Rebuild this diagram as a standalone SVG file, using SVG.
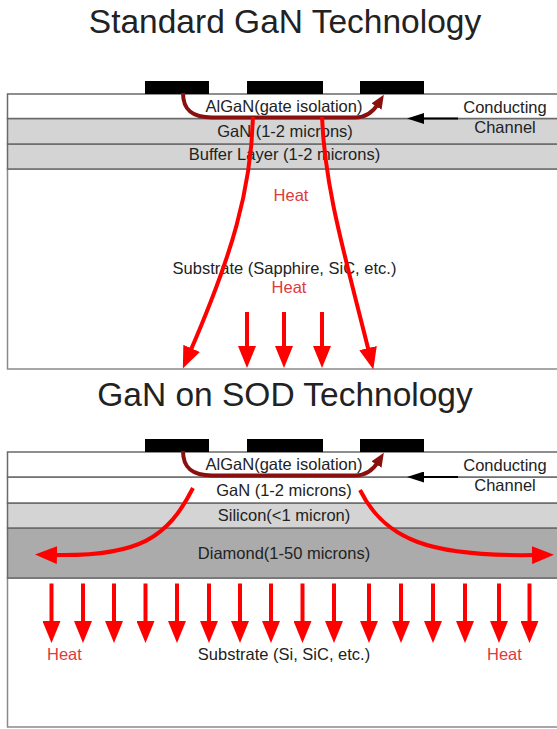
<svg xmlns="http://www.w3.org/2000/svg" width="557" height="729" viewBox="0 0 557 729">
  <style>
    text { font-family: "Liberation Sans", Arial, sans-serif; fill: #222; }
    .title { font-size: 33.5px; text-anchor: middle; }
    .lbl { font-size: 16.5px; text-anchor: middle; }
    .heat { font-size: 16.5px; fill: #e0393e; }
    .layer { stroke: #6a6a6a; stroke-width: 1.5; }
    .white { fill: #ffffff; }
    .light { fill: #d4d4d4; }
    .dark { fill: #ababab; }
    .sub { fill: #ffffff; stroke: #8a8a8a; stroke-width: 1.5; }
    .pad { fill: #000000; }
    .flow { fill: none; stroke: #ff0000; stroke-width: 4; }
    .chan { fill: none; stroke: #8a1010; stroke-width: 4; }
    .ptr { fill: none; stroke: #000000; stroke-width: 2; }
  </style>
  <defs>
    <marker id="headRed" viewBox="0 0 22 18" refX="4" refY="9" markerWidth="22" markerHeight="18" markerUnits="userSpaceOnUse" orient="auto">
      <path d="M0,0 L22,9 L0,18 z" fill="#ff0000"/>
    </marker>
    <marker id="headDark" viewBox="0 0 14 12" refX="3" refY="6" markerWidth="14" markerHeight="12" markerUnits="userSpaceOnUse" orient="auto">
      <path d="M0,0 L14,6 L0,12 z" fill="#8a1010"/>
    </marker>
    <marker id="headBlack" viewBox="0 0 17 11" refX="2" refY="5.5" markerWidth="17" markerHeight="11" markerUnits="userSpaceOnUse" orient="auto">
      <path d="M0,0 L17,5.5 L0,11 z" fill="#000000"/>
    </marker>
  </defs>

  <rect width="557" height="729" fill="#ffffff"/>

  <!-- Standard GaN stack -->
  <g id="title-standard"><text class="title" x="285" y="33">Standard GaN Technology</text></g>
  <g id="std-substrate">
    <rect class="sub" x="7.5" y="169" width="560" height="200"/>
    <text class="lbl" x="284.5" y="274">Substrate (Sapphire, SiC, etc.)</text>
  </g>
  <g id="std-buffer">
    <rect class="layer light" x="7.5" y="144" width="560" height="25"/>
    <text class="lbl" x="284.5" y="160">Buffer Layer (1-2 microns)</text>
  </g>
  <g id="std-gan">
    <rect class="layer light" x="7.5" y="118.5" width="560" height="25.5"/>
    <text class="lbl" x="285" y="137">GaN (1-2 microns)</text>
  </g>
  <g id="std-algan">
    <rect class="layer white" x="7.5" y="94" width="560" height="24.5"/>
    <text class="lbl" x="284" y="112">AlGaN(gate isolation)</text>
  </g>
  <g id="std-contacts">
    <rect class="pad" x="145" y="81" width="64" height="13"/>
    <rect class="pad" x="247" y="81" width="76" height="13"/>
    <rect class="pad" x="360" y="81" width="64" height="13"/>
  </g>
  <g id="std-channel-label">
    <text class="lbl" x="505" y="113">Conducting</text>
    <text class="lbl" x="505" y="133">Channel</text>
  </g>
  <g id="std-heat-labels">
    <text class="heat" x="291" y="201" text-anchor="middle">Heat</text>
    <text class="heat" x="289" y="293" text-anchor="middle">Heat</text>
  </g>

  <!-- GaN on SOD stack -->
  <g id="title-sod"><text class="title" x="285" y="406">GaN on SOD Technology</text></g>
  <g id="sod-substrate">
    <rect class="sub" x="7.5" y="578" width="560" height="149"/>
    <text class="lbl" x="284" y="660">Substrate (Si, SiC, etc.)</text>
  </g>
  <g id="sod-diamond">
    <rect class="layer dark" x="7.5" y="528" width="560" height="50"/>
    <text class="lbl" x="284" y="559">Diamond(1-50 microns)</text>
  </g>
  <g id="sod-silicon">
    <rect class="layer light" x="7.5" y="503" width="560" height="25"/>
    <text class="lbl" x="284" y="521">Silicon(&lt;1 micron)</text>
  </g>
  <g id="sod-gan">
    <rect class="layer white" x="7.5" y="477" width="560" height="26"/>
    <text class="lbl" x="284" y="496">GaN (1-2 microns)</text>
  </g>
  <g id="sod-algan">
    <rect class="layer white" x="7.5" y="452" width="560" height="25"/>
    <text class="lbl" x="284" y="470">AlGaN(gate isolation)</text>
  </g>
  <g id="sod-contacts">
    <rect class="pad" x="145" y="439" width="64" height="13"/>
    <rect class="pad" x="247" y="439" width="76" height="13"/>
    <rect class="pad" x="360" y="439" width="64" height="13"/>
  </g>
  <g id="sod-channel-label">
    <text class="lbl" x="505" y="471">Conducting</text>
    <text class="lbl" x="505" y="491">Channel</text>
  </g>
  <g id="sod-heat-labels">
    <text class="heat" x="47" y="660">Heat</text>
    <text class="heat" x="487" y="660">Heat</text>
  </g>

  <g id="connectors">
    <!-- standard: channel current and heat paths -->
    <path class="chan" d="M183,93 C183,110 192,117.5 212,117.5 L355,117.5 C366,117.5 373,112 378,104" marker-end="url(#headDark)"/>
    <line class="ptr" x1="458" y1="118.5" x2="422" y2="118.5" marker-end="url(#headBlack)"/>
    <path class="flow" d="M253,117 C251,190 232,255 190,352" marker-end="url(#headRed)"/>
    <path class="flow" d="M322,117 C325,190 345,255 369,352" marker-end="url(#headRed)"/>
    <line class="flow" x1="247" y1="312" x2="247" y2="350" marker-end="url(#headRed)"/>
    <line class="flow" x1="284" y1="312" x2="284" y2="350" marker-end="url(#headRed)"/>
    <line class="flow" x1="322" y1="312" x2="322" y2="350" marker-end="url(#headRed)"/>

    <!-- SOD: channel current, lateral spreading and heat paths -->
    <path class="chan" d="M183,451 C183,468 192,475.5 212,475.5 L355,475.5 C366,475.5 373,470 378,462" marker-end="url(#headDark)"/>
    <line class="ptr" x1="458" y1="477" x2="422" y2="477" marker-end="url(#headBlack)"/>
    <path class="flow" d="M193,488 C168,537 140,557 53,555" marker-end="url(#headRed)"/>
    <path class="flow" d="M360,490 C385,540 430,557 536,555" marker-end="url(#headRed)"/>
    <g>
      <line class="flow" x1="51.5" y1="583.5" x2="51.5" y2="625" marker-end="url(#headRed)"/>
      <line class="flow" x1="83" y1="583.5" x2="83" y2="625" marker-end="url(#headRed)"/>
      <line class="flow" x1="114" y1="583.5" x2="114" y2="625" marker-end="url(#headRed)"/>
      <line class="flow" x1="145.5" y1="583.5" x2="145.5" y2="625" marker-end="url(#headRed)"/>
      <line class="flow" x1="177" y1="583.5" x2="177" y2="625" marker-end="url(#headRed)"/>
      <line class="flow" x1="209" y1="583.5" x2="209" y2="625" marker-end="url(#headRed)"/>
      <line class="flow" x1="240" y1="583.5" x2="240" y2="625" marker-end="url(#headRed)"/>
      <line class="flow" x1="271" y1="583.5" x2="271" y2="625" marker-end="url(#headRed)"/>
      <line class="flow" x1="302.5" y1="583.5" x2="302.5" y2="625" marker-end="url(#headRed)"/>
      <line class="flow" x1="334" y1="583.5" x2="334" y2="625" marker-end="url(#headRed)"/>
      <line class="flow" x1="369" y1="583.5" x2="369" y2="625" marker-end="url(#headRed)"/>
      <line class="flow" x1="401" y1="583.5" x2="401" y2="625" marker-end="url(#headRed)"/>
      <line class="flow" x1="433" y1="583.5" x2="433" y2="625" marker-end="url(#headRed)"/>
      <line class="flow" x1="465" y1="583.5" x2="465" y2="625" marker-end="url(#headRed)"/>
      <line class="flow" x1="499" y1="583.5" x2="499" y2="625" marker-end="url(#headRed)"/>
      <line class="flow" x1="529.5" y1="583.5" x2="529.5" y2="625" marker-end="url(#headRed)"/>
    </g>
  </g>
</svg>
